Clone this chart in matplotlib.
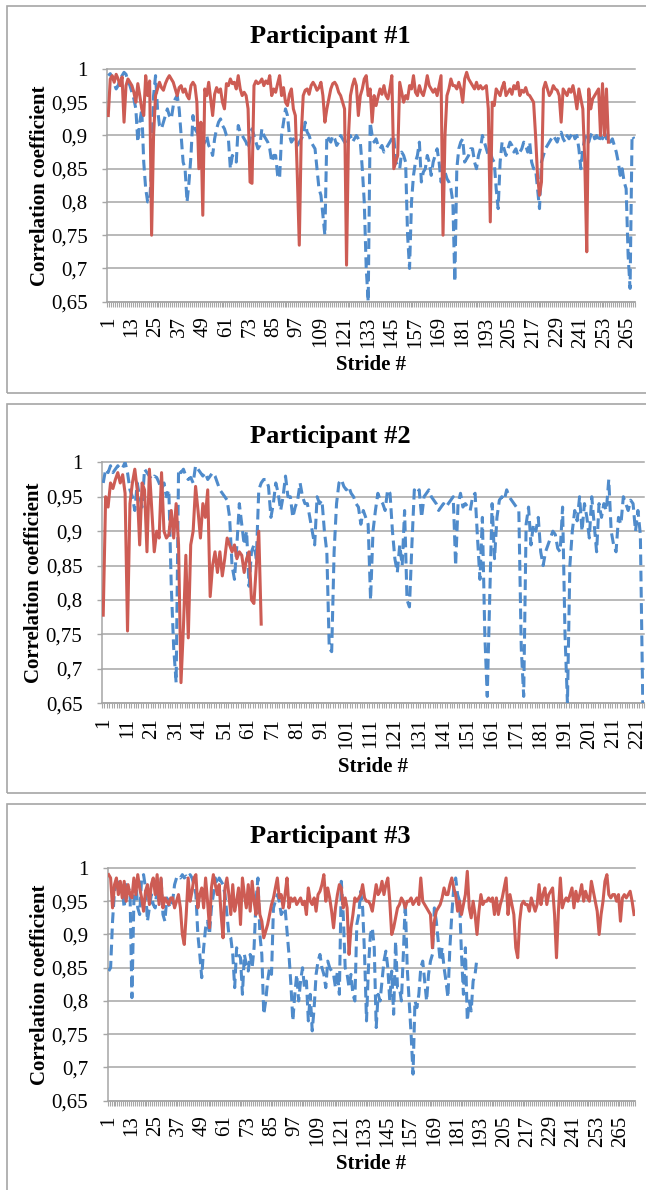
"""
Stride-by-stride correlation coefficients for three participants.
Three stacked Excel-style line charts (blue dashed + red solid series).
"""
import numpy as np
import matplotlib
matplotlib.use("Agg")
import matplotlib.pyplot as plt
from matplotlib.patches import Rectangle

W, H = 646, 1190
BLUE = "#4F8BCB"
RED = "#CD5C54"
GRID = "#A6A6A6"
plt.rcParams["font.family"] = ["Liberation Serif", "DejaVu Serif"]

# values in thousandths of the correlation coefficient, one per stride
P1_BLUE = [
    990, 993, 988, 978, 970, 975, 985, 990, 995, 992,
    982, 975, 965, 955, 940, 890, 920, 940, 860, 820,
    800, 800, 850, 960, 990, 940, 915, 910, 920, 930,
    940, 930, 925, 945, 955, 960, 940, 900, 860, 850,
    800, 830, 870, 930, 910, 905, 900, 895, 885, 890,
    900, 885, 880, 870, 895, 910, 920, 925, 915, 910,
    900, 895, 850, 870, 865, 860, 915, 905, 900, 895,
    890, 880, 895, 910, 900, 890, 880, 885, 910, 900,
    895, 890, 880, 860, 870, 870, 840, 835, 900, 920,
    940, 930, 900, 890, 895, 890, 885, 890, 895, 900,
    920, 905, 900, 890, 885, 880, 850, 820, 810, 780,
    750, 900, 895, 890, 900, 895, 885, 890, 900, 895,
    890, 885, 895, 900, 890, 895, 900, 895, 890, 850,
    800, 700, 650, 920, 900, 890, 895, 885, 880, 885,
    875, 880, 885, 890, 895, 900, 860, 855, 850, 875,
    870, 860, 750, 700, 800, 840, 860, 870, 890, 830,
    845, 850, 870, 860, 840, 860, 870, 880, 860, 830,
    840, 845, 835, 830, 820, 800, 680, 850, 880, 890,
    895, 860, 865, 870, 880, 880, 860, 850, 870, 880,
    900, 890, 880, 870, 875, 865, 860, 820, 790, 860,
    890, 880, 870, 880, 890, 885, 875, 880, 870, 875,
    880, 890, 885, 875, 890, 860, 850, 850, 820, 790,
    860, 870, 880, 885, 890, 895, 900, 895, 890, 900,
    905, 895, 890, 900, 895, 900, 905, 895, 900, 880,
    850, 880, 895, 900, 890, 900, 905, 895, 900, 890,
    900, 895, 905, 895, 900, 890, 895, 885, 875, 860,
    840, 850, 830, 820, 720, 670, 900, 895,
]
P1_RED = [
    930, 985, 990, 980, 992, 985, 975, 988, 920, 975,
    985, 980, 975, 965, 950, 978, 960, 940, 930, 990,
    960, 982, 750, 900, 960, 970, 980, 972, 968, 978,
    985, 990, 985, 980, 970, 960, 972, 975, 965, 970,
    960, 955, 975, 980, 975, 950, 850, 920, 780, 970,
    960, 980, 955, 930, 962, 972, 965, 970, 950, 940,
    978, 975, 985, 978, 980, 970, 990, 970, 960, 965,
    960, 940, 830, 828, 975, 982, 978, 980, 985, 975,
    982, 978, 990, 960, 970, 965, 978, 990, 960, 972,
    950, 945, 962, 970, 940, 930, 840, 735, 900, 960,
    968, 970, 962, 975, 980, 975, 968, 972, 980, 960,
    920, 940, 955, 970, 978, 980, 975, 965, 960, 950,
    940, 705, 900, 960, 975, 985, 975, 930, 960, 970,
    985, 990, 960, 970, 920, 960, 945, 958, 970, 962,
    975, 960, 955, 970, 990, 850, 860, 870, 980, 965,
    950, 960, 955, 975, 970, 990, 965, 960, 975, 965,
    960, 972, 990, 975, 970, 965, 970, 960, 975, 990,
    750, 900, 960, 970, 985, 975, 975, 970, 980, 970,
    950, 985, 995, 985, 980, 975, 970, 980, 970, 975,
    970, 972, 975, 940, 770, 950, 945, 970, 965, 960,
    972, 980, 960, 965, 970, 962, 975, 970, 980, 960,
    968, 965, 972, 962, 960, 955, 950, 900, 840, 810,
    830, 970, 980, 970, 960, 965, 975, 970, 968, 960,
    920, 970, 965, 960, 970, 965, 975, 960, 940, 970,
    955, 940, 860, 725, 970, 940, 955, 960, 965, 970,
    900, 978, 900, 970, 890,
]
P2_BLUE = [
    970, 990, 985, 995, 985, 990, 995, 990, 992, 1000,
    985, 960, 950, 930, 970, 950, 935, 990, 985, 980,
    975, 980, 978, 970, 960, 970, 950, 960, 820, 730,
    680, 990, 985, 990, 980, 975, 978, 970, 995, 990,
    985, 980, 985, 975, 980, 985, 980, 970, 960, 955,
    950, 945, 920, 850, 830, 880, 940, 910, 880, 900,
    820, 870, 880, 860, 960, 970, 975, 975, 965, 920,
    940, 970, 955, 930, 950, 980, 950, 950, 920, 935,
    945, 970, 950, 940, 940, 920, 900, 880, 950, 940,
    945, 900, 870, 730, 725, 870, 940, 970, 975, 965,
    960, 965, 955, 950, 940, 935, 910, 930, 920, 910,
    800, 900, 930, 955, 945, 940, 930, 960, 955, 900,
    860, 840, 880, 850, 930, 800, 790, 880, 960, 955,
    960, 920, 950, 955, 960, 950, 945, 940, 930, 935,
    940, 935, 940, 945, 950, 850, 940, 955, 935, 940,
    935, 930, 950, 955, 890, 830, 920, 750, 660, 800,
    940, 860, 920, 945, 950, 945, 960, 950, 945, 940,
    935, 930, 730, 660, 910, 935, 880, 910, 900, 920,
    870, 850, 870, 880, 890, 900, 895, 875, 870, 935,
    750, 650, 850, 900, 930, 915, 950, 900, 940, 920,
    890, 950, 910, 870, 940, 920, 940, 930, 975, 900,
    880, 870, 920, 910, 950, 940, 930, 945, 940, 900,
    930, 895, 650,
]
P2_RED = [
    778, 950, 935, 970, 962, 975, 985, 970, 982, 955,
    755, 940, 970, 990, 960, 880, 970, 960, 870, 990,
    930, 870, 900, 890, 985, 900, 890, 895, 930, 890,
    940, 880, 680, 760, 865, 745, 880, 900, 965, 930,
    890, 940, 920, 960, 805, 850, 870, 840, 870, 835,
    860, 890, 880, 870, 880, 860, 870, 865, 840, 860,
    870, 800, 795, 850, 900, 765,
]
P3_BLUE = [
    845, 850, 920, 965, 975, 985, 970, 970, 940, 975,
    970, 965, 805, 950, 980, 940, 930, 985, 990, 970,
    920, 940, 960, 945, 940, 970, 950, 985, 930, 920,
    955, 945, 940, 950, 975, 985, 988, 985, 990, 985,
    988, 985, 990, 985, 975, 960, 900, 870, 835, 880,
    910, 920, 900, 940, 960, 985, 975, 985, 980, 975,
    960, 930, 900, 895, 870, 820, 880, 870, 865, 810,
    870, 855, 845, 870, 850, 880, 950, 985, 900, 870,
    780, 800, 830, 850, 840, 940, 950, 960, 950, 930,
    935, 940, 905, 870, 825, 770, 810, 840, 800, 830,
    850, 820, 830, 770, 810, 755, 790, 840, 860, 870,
    850, 840, 820, 860, 850, 845, 840, 820, 845, 810,
    980, 930, 850, 840, 820, 840, 810, 800, 915, 930,
    965, 940, 870, 770, 850, 900, 910, 880, 760, 810,
    800, 830, 860, 875, 850, 800, 845, 780, 890, 820,
    820, 800, 870, 950, 850, 800, 750, 690, 800, 790,
    810, 850, 860, 830, 800, 840, 860, 870, 940, 920,
    890, 860, 880, 850, 830, 805, 880, 930, 970, 985,
    960, 950, 870, 810, 880, 770, 800, 785, 830, 840,
    865,
]
P3_RED = [
    990, 985, 940, 975, 985, 960, 980, 955, 980, 950,
    975, 960, 955, 985, 960, 990, 970, 955, 935, 965,
    975, 945, 975, 985, 960, 990, 945, 985, 940, 955,
    950, 945, 955, 955, 940, 950, 960, 940, 900, 885,
    930, 985, 950, 965, 985, 990, 940, 960, 970, 940,
    985, 950, 910, 970, 990, 975, 960, 975, 930, 895,
    970, 985, 960, 930, 975, 935, 950, 970, 915, 985,
    960, 940, 975, 935, 980, 950, 930, 970, 930, 920,
    895, 905, 915, 930, 945, 955, 970, 985, 955, 960,
    940, 960, 985, 940, 955, 950, 955, 945, 950, 955,
    945, 950, 930, 970, 950, 945, 955, 935, 960, 965,
    975, 990, 950, 970, 955, 935, 910, 940, 960, 975,
    970, 940, 955, 940, 870, 910, 930, 955, 950, 955,
    960, 975, 955, 950, 950, 945, 935, 955, 975, 960,
    965, 980, 960, 975, 985, 950, 900, 910, 925, 940,
    945, 955, 950, 940, 950, 950, 955, 945, 950, 955,
    945, 985, 950, 945, 940, 935, 930, 880, 920, 935,
    940, 945, 955, 970, 960, 960, 975, 985, 970, 960,
    935, 950, 930, 945, 960, 995, 940, 925, 950, 930,
    900, 935, 960, 945, 950, 950, 955, 950, 955, 930,
    955, 930, 945, 955, 970, 985, 930, 960, 945, 930,
    880, 865, 920, 945, 950, 945, 945, 935, 955, 945,
    935, 945, 975, 945, 960, 970, 945, 960, 965, 970,
    930, 865, 935, 985, 940, 950, 955, 950, 960, 970,
    940, 965, 950, 960, 975, 950, 965, 955, 950, 980,
    965, 950, 935, 900, 930, 950, 980, 990, 960, 955,
    960, 960, 950, 960, 920, 955, 960, 955, 960, 965,
    950, 930,
]

TITLES = ["Participant #1", "Participant #2", "Participant #3"]
N_STRIDES = [268, 223, 272]
X_TICKS = [list(range(1, 266, 12)), list(range(1, 222, 10)), list(range(1, 266, 12))]
Y_TICKS = [0.65, 0.70, 0.75, 0.80, 0.85, 0.90, 0.95, 1.00]
Y_LABELS = ["0,65", "0,7", "0,75", "0,8", "0,85", "0,9", "0,95", "1"]

# pixel layout: axes (left, right, top, bottom), box (x0, y0, x1, y1), text anchors
PANELS = [
    dict(ax=(107.3, 635, 69, 301.7), box=(6.7, 5.7, 660, 393.3),
         title_y=43.3, ylab_x=39.6, xlab_y=370),
    dict(ax=(102, 644, 462.3, 703.3), box=(6.6, 404.5, 660, 792.7),
         title_y=442.7, ylab_x=34, xlab_y=771.7),
    dict(ax=(107.7, 635, 868, 1100.7), box=(6.6, 804.3, 660, 1200),
         title_y=842.7, ylab_x=40, xlab_y=1169),
]


def fx(x):
    return x / W


def fy(y):
    return 1 - y / H


fig = plt.figure(figsize=(W / 100, H / 100), dpi=100, facecolor="white")

series = [(P1_BLUE, P1_RED), (P2_BLUE, P2_RED), (P3_BLUE, P3_RED)]
for i, p in enumerate(PANELS):
    blue, red = [np.array(s) / 1000 for s in series[i]]
    n = N_STRIDES[i]
    l, r, t, b = p["ax"]

    # frame round each chart
    x0, y0, x1, y1 = p["box"]
    fig.add_artist(Rectangle((fx(x0), fy(y1)), (x1 - x0) / W, (y1 - y0) / H,
                             transform=fig.transFigure, fill=False,
                             edgecolor=GRID, linewidth=1.2))

    ax = fig.add_axes([fx(l), fy(b), (r - l) / W, (b - t) / H])
    ax.plot(np.arange(1, len(blue) + 1), blue, color=BLUE, linewidth=2.2,
            linestyle=(0, (3.5, 1.8)), dash_capstyle="butt", zorder=3)
    ax.plot(np.arange(1, len(red) + 1), red, color=RED, linewidth=2.2,
            solid_joinstyle="round", zorder=4)

    ax.set_xlim(0.5, n + 0.5)
    ax.set_ylim(0.65, 1.0)
    ax.set_yticks(Y_TICKS)
    ax.set_yticklabels(Y_LABELS)
    ax.set_xticks(X_TICKS[i])
    ax.set_xticklabels([str(v) for v in X_TICKS[i]], rotation=90)
    ax.set_xticks(np.arange(0.5, n + 1), minor=True)

    ax.grid(axis="y", color=GRID, linewidth=1.1)
    ax.set_axisbelow(True)
    for gl in ax.get_ygridlines():
        gl.set_clip_on(False)

    ax.tick_params(axis="x", which="major", length=0, pad=10.5, labelsize=15)
    ax.tick_params(axis="x", which="minor", length=3.6, width=0.8, color=GRID)
    ax.tick_params(axis="y", length=3.6, width=1, color=GRID, pad=10.5, labelsize=15)
    for spine in ["top", "right"]:
        ax.spines[spine].set_visible(False)
    for spine in ["left", "bottom"]:
        ax.spines[spine].set_color(GRID)
        ax.spines[spine].set_linewidth(1.1)

    fig.text(fx(330.6), fy(p["title_y"]), TITLES[i], ha="center", va="baseline",
             fontsize=19, fontweight="bold")
    fig.text(fx(p["ylab_x"]), fy((t + b) / 2), "Correlation coefficient",
             rotation=90, ha="center", va="center", fontsize=15, fontweight="bold")
    fig.text(fx((l + r) / 2), fy(p["xlab_y"]), "Stride #", ha="center",
             va="baseline", fontsize=15, fontweight="bold")

fig.savefig("out.png", dpi=100, facecolor="white")
plt.close(fig)
